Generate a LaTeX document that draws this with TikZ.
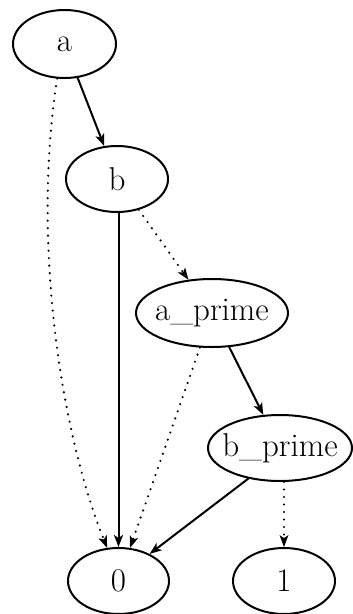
\documentclass[tikz,border=0pt]{standalone}
\usetikzlibrary{shapes.geometric,arrows.meta}
\newcommand{\zw}[1]{\makebox[0pt]{#1}}
\begin{document}
\begin{tikzpicture}[x=1pt,y=-1pt,
  bddnode/.style={draw,ellipse,line width=2pt,inner sep=0pt,font=\fontsize{33}{40}\selectfont},
  hi/.style={line width=2pt,-{Stealth[length=12pt,width=9pt,inset=3pt]}},
  lo/.style={line width=2.4pt,dash pattern=on 0pt off 7.5pt,line cap=round,-{Stealth[length=12pt,width=9pt,inset=3pt,line cap=butt,line width=0pt]}}]
\useasboundingbox (0,0) rectangle (353,614);
\node[bddnode,minimum width=103pt,minimum height=68pt] (a) at (64.5,44) {\zw{a}};
\node[bddnode,minimum width=102pt,minimum height=66pt] (b) at (117,179) {\zw{b}};
\node[bddnode,minimum width=152pt,minimum height=68pt] (ap) at (212,313) {\zw{a\_prime}};
\node[bddnode,minimum width=144pt,minimum height=66pt] (bp) at (280,448) {\zw{b\_prime}};
\node[bddnode,minimum width=101pt,minimum height=66pt] (zero) at (118.5,581) {\zw{0}};
\node[bddnode,minimum width=102pt,minimum height=66pt] (one) at (284,581) {\zw{1}};
\draw[hi] (a) -- (b);
\draw[lo] (a.258) .. controls (32,240) and (60,430) .. (zero.109);
\draw[hi] (b.south -| zero.north) -- (zero.north);
\draw[lo] (b) -- (ap);
\draw[lo] (ap) -- (zero);
\draw[hi] (ap) -- (bp);
\draw[hi] (bp.224) -- (zero.41);
\draw[lo] (bp.south -| one.north) -- (one.north);
\end{tikzpicture}
\end{document}
